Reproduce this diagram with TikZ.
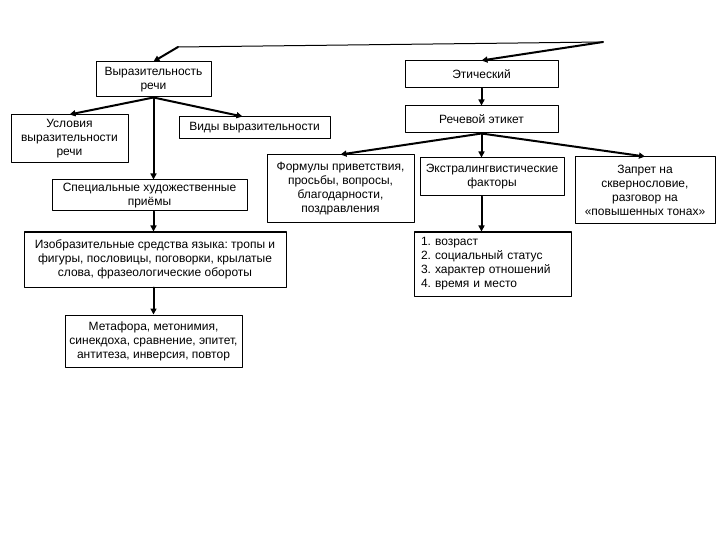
\documentclass[tikz,border=0pt]{standalone}
\usepackage{fontspec}
\setmainfont{Liberation Sans}
\usetikzlibrary{arrows.meta}
\frenchspacing
\begin{document}
\begin{tikzpicture}[x=1pt,y=-1pt,line cap=round,line join=round,
  box/.style={draw,line width=1pt,align=center,inner sep=2pt,font=\fontsize{12}{14}\selectfont},
  arr/.style={line width=2pt,-{Triangle[length=6pt,width=6pt]}}]
  \useasboundingbox (0,0) rectangle (720,540);
  % top branch
  \coordinate (tl) at (178,47);
  \coordinate (tr) at (603,42);
  \node[box,minimum width=115,minimum height=35] (vyr) at (153.5,79.5) {Выразительность\\речи};
  \node[box,minimum width=153,minimum height=27] (eth) at (481.5,74.5) {Этический};
  \draw[line width=1pt] (tl)--(tr);
  \draw[arr] (tl)--(vyr.north);
  \draw[arr] (tr)--(eth.north);
  % left column
  \node[box,minimum width=117,minimum height=48] (usl) at (69.5,139) {Условия\\выразительности\\речи};
  \node[box,minimum width=151,minimum height=22] (vidy) at (254.5,128) {Виды выразительности};
  \node[box,minimum width=195,minimum height=31] (spec) at (149.5,195.5) {Специальные художественные\\приёмы};
  \node[box,minimum width=262,minimum height=55] (izo) at (155,259.5) {Изобразительные средства языка: тропы и\\фигуры, пословицы, поговорки, крылатые\\слова, фразеологические обороты};
  \node[box,minimum width=177,minimum height=52] (meta) at (153.5,341) {Метафора, метонимия,\\синекдоха, сравнение, эпитет,\\антитеза, инверсия, повтор};
  \draw[arr] (vyr.south)--(usl.north);
  \draw[arr] (vyr.south)--([xshift=-12pt]vidy.north);
  \draw[arr] (vyr.south)--(vyr.south |- spec.north);
  \draw[arr] (spec.south -| vyr.south)--(izo.north -| vyr.south);
  \draw[arr] (izo.south -| vyr.south)--(meta.north -| vyr.south);
  % right column
  \node[box,minimum width=153,minimum height=27] (rech) at (481.5,119.5) {Речевой этикет};
  \node[box,minimum width=147,minimum height=68] (form) at (340.5,189) {Формулы приветствия,\\просьбы, вопросы,\\благодарности,\\поздравления};
  \node[box,minimum width=144,minimum height=38] (ekstra) at (492,177) {Экстралингвистические\\факторы};
  \node[box,minimum width=140,minimum height=67] (zapret) at (645,190.5) {Запрет на\\сквернословие,\\разговор на\\«повышенных тонах»};
  \node[box,align=left,text width=143,inner xsep=7pt,minimum height=64] (list) at (492.5,264) {1. возраст\\2. социальный статус\\3. характер отношений\\4. время и место};
  \draw[arr] (eth.south)--(rech.north);
  \draw[arr] (rech.south)--(form.north);
  \draw[arr] (rech.south)--(rech.south |- ekstra.north);
  \draw[arr] (rech.south)--(zapret.north);
  \draw[arr] (ekstra.south -| rech.south)--(list.north -| rech.south);
\end{tikzpicture}
\end{document}
